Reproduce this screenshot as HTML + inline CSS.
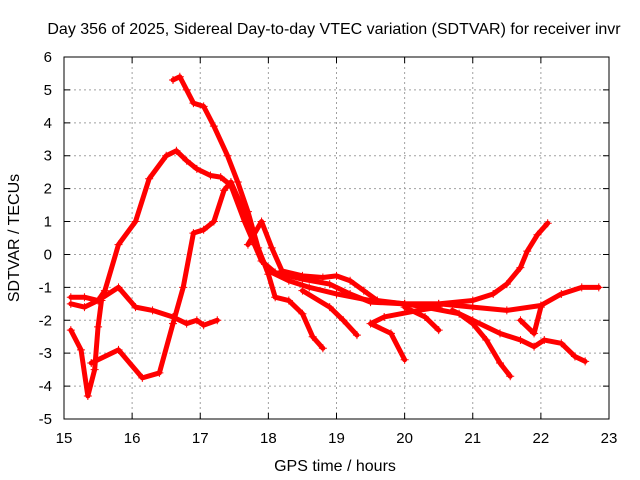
<!DOCTYPE html>
<html><head><meta charset="utf-8"><style>
body{margin:0;background:#fff;}
svg{display:block;font-family:"Liberation Sans",sans-serif;}
</style></head><body>
<svg id="chart" width="640" height="480" viewBox="0 0 640 480">
<rect width="640" height="480" fill="#fff"/>
<text x="334" y="34" font-size="16" text-anchor="middle">Day 356 of 2025, Sidereal Day-to-day VTEC variation (SDTVAR) for receiver invr</text>
<text x="335" y="471" font-size="16" text-anchor="middle">GPS time / hours</text>
<text transform="translate(19,238) rotate(-90)" font-size="16" text-anchor="middle">SDTVAR / TECUs</text>
<g id="grid"></g>
<g id="series"></g>
<rect x="64" y="57" width="545" height="362" fill="none" stroke="#000" stroke-width="1"/>
</svg>
<script>
const xTicks=[15,16,17,18,19,20,21,22,23];
const yTicks=[-5,-4,-3,-2,-1,0,1,2,3,4,5,6];
const seriesA=[[15.1,-1.3],[15.3,-1.3],[15.5,-1.4],[15.6,-1.1],[15.8,0.3],[16.05,1.0],[16.25,2.3],[16.5,3.0],[16.65,3.15],[16.8,2.85],[16.95,2.6],[17.15,2.4],[17.3,2.35],[17.45,2.1],[17.65,1.0],[17.9,-0.2],[18.1,-0.55],[18.5,-0.75],[18.9,-0.9],[19.2,-1.2],[19.5,-1.45],[20.0,-1.5],[20.5,-1.5],[21.0,-1.6],[21.5,-1.7],[22.0,-1.55],[22.3,-1.2],[22.6,-1.0],[22.85,-1.0]];
const seriesB=[[16.6,5.3],[16.7,5.4],[16.8,5.0],[16.9,4.6],[17.05,4.5],[17.2,3.9],[17.4,3.0],[17.55,2.2],[17.7,1.3],[17.85,0.2],[18.0,-0.6],[18.1,-1.3],[18.3,-1.4],[18.5,-1.8],[18.65,-2.5],[18.8,-2.85]];
const seriesC=[[15.1,-2.3],[15.25,-2.9],[15.35,-4.3],[15.45,-3.5],[15.5,-2.2],[15.55,-1.4]];
const seriesD=[[15.4,-3.3],[15.8,-2.9],[16.15,-3.75],[16.4,-3.6],[16.6,-2.1],[16.75,-1.0],[16.9,0.65],[17.05,0.75],[17.2,1.0],[17.35,1.95],[17.45,2.2],[17.6,1.5],[17.8,0.3],[18.0,-0.5],[18.3,-0.8],[18.6,-1.0],[19.0,-1.2],[19.5,-1.4],[20.0,-1.5],[20.3,-1.6]];
const seriesE=[[15.1,-1.5],[15.3,-1.6],[15.5,-1.4],[15.8,-1.0],[16.05,-1.6],[16.3,-1.7],[16.6,-1.9],[16.8,-2.1],[16.95,-2.0],[17.05,-2.15],[17.25,-2.0]];
const seriesF=[[17.7,0.3],[17.9,1.0],[18.05,0.2],[18.2,-0.5],[18.5,-0.65],[18.8,-0.7],[19.0,-0.65],[19.2,-0.8],[19.4,-1.1],[19.6,-1.4],[20.0,-1.5],[20.5,-1.5],[21.0,-1.4],[21.3,-1.2],[21.5,-0.9],[21.7,-0.4],[21.8,0.1],[21.95,0.6],[22.1,0.95]];
const seriesG=[[18.5,-1.1],[18.9,-1.6],[19.1,-2.0],[19.3,-2.45]];
const seriesH=[[20.5,-1.6],[20.2,-1.7],[19.7,-1.9],[19.5,-2.1],[19.8,-2.4],[20.0,-3.2]];
const seriesI=[[20.3,-1.6],[20.8,-1.8],[21.0,-2.1],[21.2,-2.6],[21.4,-3.3],[21.55,-3.7]];
const seriesJ=[[20.7,-1.7],[21.0,-2.0],[21.4,-2.4],[21.7,-2.6],[21.9,-2.8],[22.05,-2.6],[22.3,-2.7],[22.5,-3.1],[22.65,-3.25]];
const seriesK=[[21.7,-2.0],[21.9,-2.4],[22.0,-1.6]];
const seriesL=[[20.0,-1.6],[20.3,-1.9],[20.5,-2.3]];
const allSeries=[seriesA,seriesB,seriesC,seriesD,seriesE,seriesF,seriesG,seriesH,seriesI,seriesJ,seriesK,seriesL];
const NS='http://www.w3.org/2000/svg';
function sx(h){return 64+(h-15)*545/8;}
function sy(v){return 57+(6-v)*362/11;}
const grid=document.getElementById('grid');
xTicks.forEach(t=>{
  const x=sx(t);
  if(t>15&&t<23){const l=document.createElementNS(NS,'line');
    
    
    l.setAttribute('x1',x);l.setAttribute('x2',x);l.setAttribute('y1',57);l.setAttribute('y2',419);
    l.setAttribute('stroke','#a0a0a0');l.setAttribute('stroke-dasharray','2,3');grid.appendChild(l);}
  const tk=document.createElementNS(NS,'path');
  
  
  tk.setAttribute('d',`M${x},419v-6M${x},57v6`);tk.setAttribute('stroke','#000');grid.appendChild(tk);
  const tx=document.createElementNS(NS,'text');
  
  
  tx.setAttribute('x',x);tx.setAttribute('y',443);tx.setAttribute('font-size','15');tx.setAttribute('text-anchor','middle');
  tx.textContent=t;grid.appendChild(tx);
});
yTicks.forEach(t=>{
  const y=sy(t);
  if(t>-5&&t<6){const l=document.createElementNS(NS,'line');
    
    
    l.setAttribute('x1',64);l.setAttribute('x2',609);l.setAttribute('y1',y);l.setAttribute('y2',y);
    l.setAttribute('stroke','#a0a0a0');l.setAttribute('stroke-dasharray','2,3');grid.appendChild(l);}
  const tk=document.createElementNS(NS,'path');
  
  
  tk.setAttribute('d',`M64,${y}h6M609,${y}h-6`);tk.setAttribute('stroke','#000');grid.appendChild(tk);
  const tx=document.createElementNS(NS,'text');
  
  
  tx.setAttribute('x',52);tx.setAttribute('y',y+5);tx.setAttribute('font-size','15');tx.setAttribute('text-anchor','end');
  tx.textContent=t;grid.appendChild(tx);
});
const sg=document.getElementById('series');
allSeries.forEach((s,i)=>{
  const p=document.createElementNS(NS,'polyline');
  
  
  p.setAttribute('points',s.map(d=>sx(d[0])+','+sy(d[1])).join(' '));
  p.setAttribute('fill','none');p.setAttribute('stroke','#ff0000');p.setAttribute('stroke-width','5');
  p.setAttribute('stroke-linejoin','round');p.setAttribute('stroke-linecap','round');
  sg.appendChild(p);
  s.forEach(d=>{
    const m=document.createElementNS(NS,'path');
    
    
    const x=sx(d[0]),y=sy(d[1]);
    m.setAttribute('d',`M${x-4},${y}h8M${x},${y-4}v8`);
    m.setAttribute('stroke','#ff0000');m.setAttribute('stroke-width','1');
    sg.appendChild(m);
  });
});
</script>
</body></html>
